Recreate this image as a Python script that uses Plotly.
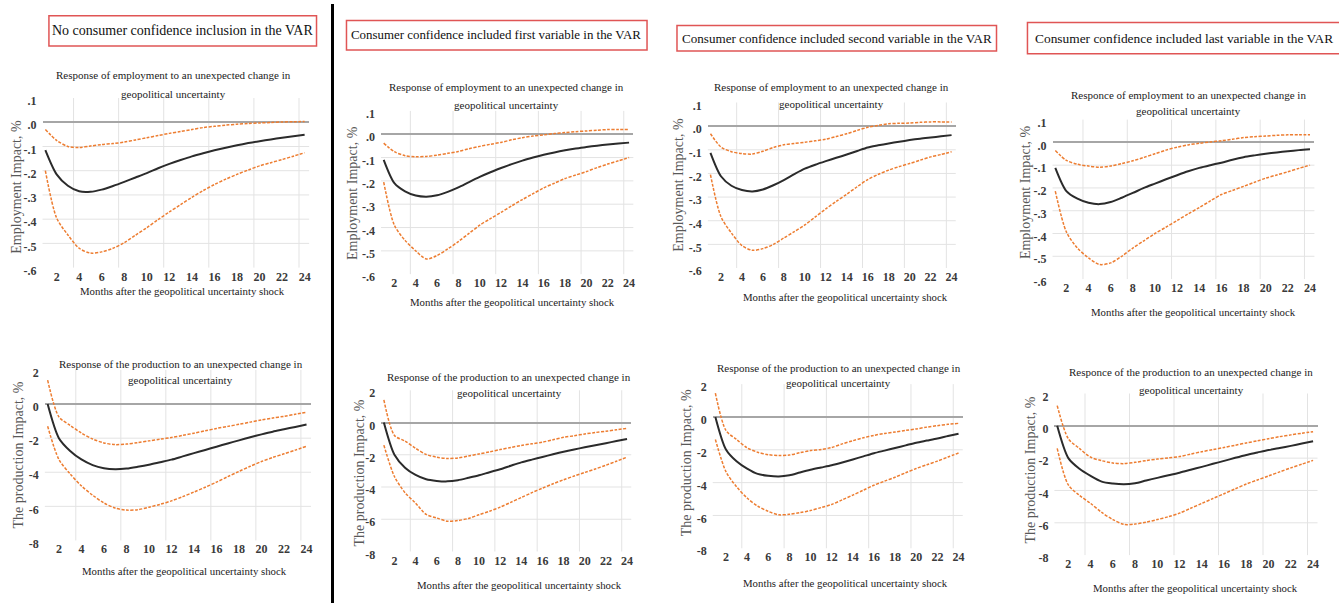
import plotly.graph_objects as go

W, H = 1339, 613

# ---------------- data ----------------
months = list(range(1, 25))
x_tick_vals = list(range(2, 25, 2))
x_tick_text = [str(v) for v in x_tick_vals]
x_grid_vals = [3.5, 7.5, 11.5, 15.5, 19.5, 23.5]

emp_tick_vals = [0.1, 0.0, -0.1, -0.2, -0.3, -0.4, -0.5, -0.6]
emp_tick_text = [".1", ".0", "-.1", "-.2", "-.3", "-.4", "-.5", "-.6"]
emp_grid_vals = [-0.1, -0.2, -0.3, -0.4, -0.5]
prod_tick_vals = [2, 0, -2, -4, -6, -8]
prod_tick_text = ["2", "0", "-2", "-4", "-6", "-8"]
prod_grid_vals = [-2, -4, -6]

headers = [
    "No consumer confidence inclusion in the VAR",
    "Consumer confidence included first variable in the VAR",
    "Consumer confidence included second variable in the VAR",
    "Consumer confidence included last variable in the VAR",
]
emp_title = ["Response of employment to an unexpected change in", "geopolitical uncertainty"]
prod_title = ["Response of the production to an unexpected change in", "geopolitical uncertainty"]
emp_title_4 = ["Responce of employment to an unexpected change in", "geopolitical uncertainty"]
prod_title_4 = ["Responce of the production to an unexpected change in", "geopolitical uncertainty"]
emp_ytitle = "Employment Impact, %"
prod_ytitle = "The production Impact, %"
xtitle = "Months after the geopolitical uncertainty shock"

# Panel 1: no consumer confidence
emp_none_irf = [-0.115, -0.215, -0.262, -0.285, -0.287, -0.278, -0.263, -0.246, -0.228, -0.21, -0.19, -0.172,
                -0.156, -0.141, -0.128, -0.116, -0.105, -0.095, -0.086, -0.078, -0.071, -0.064, -0.058, -0.052]
emp_none_hi = [-0.03, -0.075, -0.1, -0.104, -0.098, -0.092, -0.088, -0.082, -0.073, -0.064, -0.055, -0.046,
               -0.038, -0.03, -0.022, -0.017, -0.012, -0.008, -0.005, -0.003, -0.001, 0.001, 0.002, 0.003]
emp_none_lo = [-0.2, -0.395, -0.465, -0.52, -0.54, -0.535, -0.52, -0.497, -0.466, -0.435, -0.402, -0.37,
               -0.34, -0.31, -0.282, -0.257, -0.235, -0.215, -0.197, -0.18, -0.167, -0.154, -0.14, -0.126]
prod_none_irf = [0.0, -2.0, -2.75, -3.25, -3.58, -3.76, -3.82, -3.78, -3.68, -3.56, -3.41, -3.26,
                 -3.07, -2.88, -2.69, -2.5, -2.31, -2.13, -1.95, -1.78, -1.62, -1.48, -1.34, -1.2]
prod_none_hi = [1.4, -0.75, -1.25, -1.7, -2.05, -2.28, -2.38, -2.35, -2.26, -2.16, -2.06, -1.96,
                -1.84, -1.71, -1.57, -1.43, -1.31, -1.19, -1.06, -0.93, -0.82, -0.72, -0.6, -0.48]
prod_none_lo = [-1.3, -3.25, -4.1, -4.8, -5.35, -5.8, -6.1, -6.22, -6.2, -6.05, -5.88, -5.68,
                -5.43, -5.16, -4.88, -4.58, -4.26, -3.95, -3.65, -3.37, -3.13, -2.92, -2.7, -2.48]

# Panel 2: consumer confidence first
emp_first_irf = [-0.11, -0.21, -0.245, -0.263, -0.268, -0.262, -0.247, -0.228, -0.205, -0.183, -0.163, -0.145,
                 -0.128, -0.113, -0.1, -0.088, -0.078, -0.069, -0.061, -0.055, -0.049, -0.044, -0.04, -0.036]
emp_first_hi = [-0.038, -0.075, -0.092, -0.097, -0.095, -0.09, -0.082, -0.074, -0.062, -0.052, -0.043, -0.035,
                -0.024, -0.015, -0.008, -0.003, 0.003, 0.007, 0.011, 0.014, 0.017, 0.02, 0.02, 0.02]
emp_first_lo = [-0.205, -0.39, -0.455, -0.5, -0.535, -0.52, -0.492, -0.46, -0.425, -0.39, -0.362, -0.335,
                -0.307, -0.28, -0.255, -0.23, -0.21, -0.19, -0.175, -0.16, -0.143, -0.128, -0.114, -0.1]
prod_first_irf = [0.0, -2.0, -2.8, -3.25, -3.52, -3.62, -3.65, -3.58, -3.43, -3.27, -3.08, -2.9,
                  -2.68, -2.47, -2.3, -2.14, -1.97, -1.81, -1.67, -1.54, -1.41, -1.28, -1.15, -1.02]
prod_first_hi = [1.4, -0.8, -1.15, -1.6, -1.98, -2.15, -2.23, -2.2, -2.08, -1.95, -1.82, -1.68,
                 -1.55, -1.42, -1.32, -1.22, -1.07, -0.92, -0.82, -0.71, -0.62, -0.54, -0.45, -0.36]
prod_first_lo = [-1.4, -3.35, -4.35, -5.0, -5.7, -5.92, -6.12, -6.08, -5.95, -5.72, -5.5, -5.25,
                 -4.95, -4.65, -4.35, -4.07, -3.8, -3.55, -3.32, -3.1, -2.88, -2.65, -2.4, -2.15]

# Panel 3: consumer confidence second
emp_second_irf = [-0.113, -0.212, -0.252, -0.27, -0.276, -0.268, -0.25, -0.228, -0.203, -0.18, -0.163, -0.148,
                  -0.134, -0.12, -0.105, -0.09, -0.081, -0.073, -0.066, -0.059, -0.053, -0.048, -0.043, -0.038]
emp_second_hi = [-0.032, -0.088, -0.108, -0.116, -0.118, -0.106, -0.09, -0.079, -0.073, -0.068, -0.062, -0.055,
                 -0.044, -0.032, -0.018, -0.005, 0.003, 0.01, 0.012, 0.013, 0.016, 0.018, 0.018, 0.018]
emp_second_lo = [-0.205, -0.383, -0.452, -0.505, -0.525, -0.518, -0.5, -0.473, -0.446, -0.418, -0.384, -0.35,
                 -0.318, -0.288, -0.256, -0.226, -0.204, -0.186, -0.171, -0.158, -0.144, -0.13, -0.12, -0.108]
prod_second_irf = [0.0, -1.98, -2.7, -3.15, -3.47, -3.58, -3.62, -3.55, -3.38, -3.22, -3.08, -2.94,
                   -2.77, -2.59, -2.4, -2.21, -2.05, -1.89, -1.73, -1.57, -1.44, -1.31, -1.16, -1.02]
prod_second_hi = [1.45, -0.82, -1.37, -1.88, -2.15, -2.3, -2.35, -2.32, -2.18, -2.05, -1.98, -1.86,
                  -1.64, -1.45, -1.27, -1.12, -1.01, -0.92, -0.82, -0.73, -0.62, -0.53, -0.45, -0.39]
prod_second_lo = [-1.37, -3.33, -4.25, -4.94, -5.43, -5.75, -5.96, -5.93, -5.83, -5.7, -5.52, -5.33,
                  -5.05, -4.76, -4.46, -4.16, -3.91, -3.67, -3.4, -3.14, -2.91, -2.69, -2.44, -2.2]

# Panel 4: consumer confidence last
emp_last_irf = [-0.112, -0.214, -0.247, -0.265, -0.271, -0.262, -0.243, -0.222, -0.2, -0.181, -0.162, -0.144,
                -0.127, -0.112, -0.1, -0.089, -0.076, -0.065, -0.057, -0.05, -0.044, -0.039, -0.034, -0.03]
emp_last_hi = [-0.036, -0.079, -0.096, -0.104, -0.109, -0.104, -0.093, -0.081, -0.066, -0.05, -0.034, -0.021,
               -0.011, -0.004, 0.002, 0.007, 0.014, 0.021, 0.025, 0.028, 0.031, 0.033, 0.033, 0.033]
emp_last_lo = [-0.214, -0.393, -0.464, -0.507, -0.536, -0.529, -0.5, -0.464, -0.432, -0.4, -0.372, -0.343,
               -0.314, -0.286, -0.257, -0.229, -0.211, -0.193, -0.175, -0.157, -0.143, -0.129, -0.114, -0.1]
prod_last_irf = [0.0, -2.0, -2.66, -3.1, -3.45, -3.57, -3.62, -3.55, -3.38, -3.22, -3.06, -2.9,
                 -2.72, -2.54, -2.35, -2.17, -1.98, -1.8, -1.65, -1.5, -1.37, -1.24, -1.1, -0.96]
prod_last_hi = [1.25, -0.8, -1.4, -1.94, -2.16, -2.3, -2.34, -2.26, -2.15, -2.06, -1.98, -1.9,
                -1.75, -1.6, -1.47, -1.34, -1.2, -1.06, -0.93, -0.8, -0.67, -0.56, -0.46, -0.36]
prod_last_lo = [-1.4, -3.66, -4.3, -4.8, -5.36, -5.8, -6.1, -6.08, -5.96, -5.8, -5.62, -5.4,
                -5.1, -4.8, -4.5, -4.2, -3.9, -3.6, -3.35, -3.1, -2.85, -2.6, -2.37, -2.14]

# ---------------- layout helpers ----------------
SERIF = "Liberation Serif"
BLACK = "#2b2b2b"
ORANGE = "#ED7D31"
GRID = "#e3e3e3"
TXT = "#3a3a3a"


def px(x):
    return x / W


def py(y):
    return 1 - y / H


# plot-area boxes in pixels: left, right, top, bottom
panels = [
    dict(kind="emp", box=(42.6, 309.6, 96.2, 269.8), data=(emp_none_irf, emp_none_hi, emp_none_lo),
         title=emp_title, tpos=(174, 73, 92), ytpos=(17, 187), xtpos=(183, 294)),
    dict(kind="prod", box=(44.9, 311.5, 374.5, 549), data=(prod_none_irf, prod_none_hi, prod_none_lo),
         title=prod_title, tpos=(181, 368, 385), ytpos=(18, 461), xtpos=(185, 580)),
    dict(kind="emp", box=(381.6, 634.3, 109.4, 276.5), data=(emp_first_irf, emp_first_hi, emp_first_lo),
         title=emp_title, tpos=(507, 85, 103), ytpos=(353, 193), xtpos=(513, 305)),
    dict(kind="prod", box=(381.8, 632.2, 395.3, 560.3), data=(prod_first_irf, prod_first_hi, prod_first_lo),
         title=prod_title, tpos=(510, 382, 398), ytpos=(360, 480), xtpos=(520, 595)),
    dict(kind="emp", box=(708.9, 957.2, 100.8, 270.2), data=(emp_second_irf, emp_second_hi, emp_second_lo),
         title=emp_title, tpos=(833, 85, 102), ytpos=(680, 185), xtpos=(847, 300)),
    dict(kind="prod", box=(713.8, 964.2, 389, 557), data=(prod_second_irf, prod_second_hi, prod_second_lo),
         title=prod_title, tpos=(840, 372, 388), ytpos=(687, 469), xtpos=(847, 593)),
    dict(kind="emp", box=(1054.1, 1316.4, 118.3, 281.5), data=(emp_last_irf, emp_last_hi, emp_last_lo),
         title=emp_title_4, tpos=(1190, 93, 110), ytpos=(1027, 192), xtpos=(1195, 315)),
    dict(kind="prod", box=(1056, 1319.5, 398.6, 564), data=(prod_last_irf, prod_last_hi, prod_last_lo),
         title=prod_title_4, tpos=(1193, 377, 395), ytpos=(1032, 477), xtpos=(1197, 598)),
]

# box left, right, top, bottom, font size, text centre x
header_boxes = [(49, 317, 12, 43, 14, 183), (347, 648, 17, 47, 12.9, 497),
                (678, 998, 22, 48, 13.1, 838), (1029, 1345, 19, 51, 13.4, 1186)]

fig = go.Figure()
shapes = []
annotations = []

for i, p in enumerate(panels, start=1):
    xa = "x" if i == 1 else f"x{i}"
    ya = "y" if i == 1 else f"y{i}"
    irf, hi, lo = p["data"]
    for series, color, dash, width in ((hi, ORANGE, "3px,1.5px", 1.5),
                                       (lo, ORANGE, "3px,1.5px", 1.5),
                                       (irf, BLACK, "solid", 2.0)):
        fig.add_trace(go.Scatter(x=months, y=series, mode="lines", xaxis=xa, yaxis=ya,
                                 line=dict(color=color, width=width, dash=dash, shape="spline", smoothing=0.8),
                                 showlegend=False, hoverinfo="skip"))
    l, r, t, b = p["box"]
    if p["kind"] == "emp":
        tv, tt, yr, gv = emp_tick_vals, emp_tick_text, [-0.6, 0.1], emp_grid_vals
    else:
        tv, tt, yr, gv = prod_tick_vals, prod_tick_text, [-8, 2], prod_grid_vals
    xkey = "xaxis" if i == 1 else f"xaxis{i}"
    ykey = "yaxis" if i == 1 else f"yaxis{i}"
    fig.update_layout(**{
        xkey: dict(domain=[px(l), px(r)], anchor=ya, range=[0.75, 24.4], tickmode="array",
                   tickvals=x_tick_vals, ticktext=x_tick_text, showgrid=False, zeroline=False,
                   showline=False, ticks="", tickfont=dict(family=SERIF, size=12, color=TXT, weight="bold"),
                   fixedrange=True),
        ykey: dict(domain=[py(b), py(t)], anchor=xa, range=yr, tickmode="array", tickvals=tv,
                   ticktext=tt, showgrid=False, zeroline=True, zerolinecolor="#a6a6a6",
                   zerolinewidth=1.5, showline=False, ticks="", ticklabelstandoff=5, ticklabelshift=3,
                   tickfont=dict(family=SERIF, size=12, color=TXT, weight="bold"), fixedrange=True),
    })
    for g in gv:
        shapes.append(dict(type="line", xref=f"{xa} domain", yref=ya, x0=0, x1=1, y0=g, y1=g,
                           line=dict(color=GRID, width=1), layer="below"))
    for g in x_grid_vals:
        shapes.append(dict(type="line", xref=xa, yref=f"{ya} domain", x0=g, x1=g, y0=0, y1=1,
                           line=dict(color=GRID, width=1), layer="below"))
    tx, ty1, ty2 = p["tpos"]
    for line_text, ty in ((p["title"][0], ty1), (p["title"][1], ty2)):
        annotations.append(dict(text=line_text, x=px(tx), y=py(ty), xref="paper", yref="paper",
                                showarrow=False, xanchor="center", yanchor="middle",
                                font=dict(family=SERIF, size=11, color="#222222")))
    yx, yy = p["ytpos"]
    annotations.append(dict(text=emp_ytitle if p["kind"] == "emp" else prod_ytitle,
                            x=px(yx), y=py(yy), xref="paper", yref="paper", textangle=-90,
                            showarrow=False, xanchor="center", yanchor="middle",
                            font=dict(family=SERIF, size=14, color="#595959")))
    xx, xy = p["xtpos"]
    annotations.append(dict(text=xtitle, x=px(xx), y=py(xy), xref="paper", yref="paper",
                            showarrow=False, xanchor="center", yanchor="middle",
                            font=dict(family=SERIF, size=10.8, color="#222222")))

for text, (x0, x1, y0, y1, fs, cx) in zip(headers, header_boxes):
    shapes.append(dict(type="rect", xref="paper", yref="paper", x0=px(x0), x1=px(x1), y0=py(y1), y1=py(y0),
                       line=dict(color="#e05555", width=1.5), fillcolor="rgba(0,0,0,0)"))
    annotations.append(dict(text=text, x=px(cx), y=py((y0 + y1) / 2), xref="paper", yref="paper",
                            showarrow=False, xanchor="center", yanchor="middle",
                            font=dict(family=SERIF, size=fs, color="#111111")))

# black divider between the first panel column and the others
shapes.append(dict(type="line", xref="paper", yref="paper", x0=px(333), x1=px(333), y0=0, y1=1,
                   line=dict(color="#000000", width=3)))

fig.update_layout(width=W, height=H, margin=dict(l=0, r=0, t=0, b=0),
                  paper_bgcolor="white", plot_bgcolor="white",
                  shapes=shapes, annotations=annotations, showlegend=False)

fig.write_html("out.html", include_plotlyjs=True, config={"displayModeBar": False})
